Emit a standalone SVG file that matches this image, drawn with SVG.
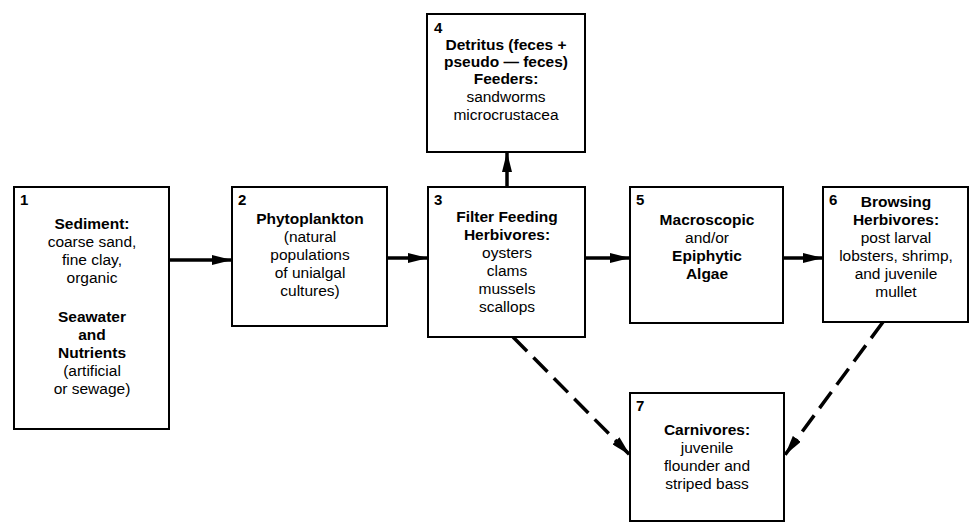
<svg xmlns="http://www.w3.org/2000/svg" width="971" height="524" viewBox="0 0 971 524">
<defs>
<style>
.box{fill:#fff;stroke:#000;stroke-width:2}
text{font-family:"Liberation Sans",Arial,sans-serif;font-size:15.5px;fill:#000;text-anchor:middle}
.b{font-weight:bold}
.n{text-anchor:start;font-weight:bold;font-size:15px}
.conn{stroke:#000;stroke-width:3.5;fill:none}
.dash{stroke-dasharray:20 9}
</style>
<marker id="ah" viewBox="0 0 20 10" refX="20" refY="5" markerWidth="20" markerHeight="10" markerUnits="userSpaceOnUse" orient="auto">
<path d="M0,0 L20,5 L0,10 Z" fill="#000"/>
</marker>
</defs>
<rect width="971" height="524" fill="#fff"/>
<g id="connectors">
<line class="conn" x1="169" y1="260" x2="232" y2="260" marker-end="url(#ah)"/>
<line class="conn" x1="387" y1="258" x2="428" y2="258" marker-end="url(#ah)"/>
<line class="conn" x1="585" y1="258" x2="630" y2="258" marker-end="url(#ah)"/>
<line class="conn" x1="783" y1="258" x2="823" y2="258" marker-end="url(#ah)"/>
<line class="conn" x1="507" y1="187" x2="507" y2="152" marker-end="url(#ah)"/>
<line class="conn dash" x1="513" y1="337" x2="630" y2="455" marker-end="url(#ah)"/>
<line class="conn dash" x1="883" y1="322" x2="785" y2="455" marker-end="url(#ah)"/>
</g>
<g id="node1">
<rect class="box" x="14" y="187" width="155" height="242"/>
<text class="n" x="20" y="205">1</text>
<text class="b" x="92" y="229">Sediment:</text>
<text x="92" y="247">coarse sand,</text>
<text x="92" y="265">fine clay,</text>
<text x="92" y="283">organic</text>
<text class="b" x="92" y="322">Seawater</text>
<text class="b" x="92" y="340">and</text>
<text class="b" x="92" y="358">Nutrients</text>
<text x="92" y="376">(artificial</text>
<text x="92" y="394">or sewage)</text>
</g>
<g id="node2">
<rect class="box" x="232" y="187" width="155" height="139"/>
<text class="n" x="238" y="205">2</text>
<text class="b" x="310" y="224">Phytoplankton</text>
<text x="310" y="242">(natural</text>
<text x="310" y="260">populations</text>
<text x="310" y="278">of unialgal</text>
<text x="310" y="296">cultures)</text>
</g>
<g id="node3">
<rect class="box" x="428" y="187" width="157" height="150"/>
<text class="n" x="434" y="205">3</text>
<text class="b" x="507" y="222">Filter Feeding</text>
<text class="b" x="507" y="240">Herbivores:</text>
<text x="507" y="258">oysters</text>
<text x="507" y="276">clams</text>
<text x="507" y="294">mussels</text>
<text x="507" y="312">scallops</text>
</g>
<g id="node4">
<rect class="box" x="427" y="14" width="158" height="138"/>
<text class="n" x="434" y="33">4</text>
<text class="b" x="506" y="50">Detritus (feces +</text>
<text class="b" x="506" y="67">pseudo — feces)</text>
<text class="b" x="506" y="84">Feeders:</text>
<text x="506" y="102">sandworms</text>
<text x="506" y="120">microcrustacea</text>
</g>
<g id="node5">
<rect class="box" x="630" y="187" width="153" height="136"/>
<text class="n" x="636" y="205">5</text>
<text class="b" x="707" y="225">Macroscopic</text>
<text x="707" y="243">and/or</text>
<text class="b" x="707" y="261">Epiphytic</text>
<text class="b" x="707" y="279">Algae</text>
</g>
<g id="node6">
<rect class="box" x="823" y="187" width="145" height="135"/>
<text class="n" x="829" y="205">6</text>
<text class="b" x="896" y="207">Browsing</text>
<text class="b" x="896" y="225">Herbivores:</text>
<text x="896" y="243">post larval</text>
<text x="896" y="261">lobsters, shrimp,</text>
<text x="896" y="279">and juvenile</text>
<text x="896" y="297">mullet</text>
</g>
<g id="node7">
<rect class="box" x="630" y="393" width="154" height="128"/>
<text class="n" x="636" y="411">7</text>
<text class="b" x="707" y="435">Carnivores:</text>
<text x="707" y="453">juvenile</text>
<text x="707" y="471">flounder and</text>
<text x="707" y="489">striped bass</text>
</g>
</svg>
